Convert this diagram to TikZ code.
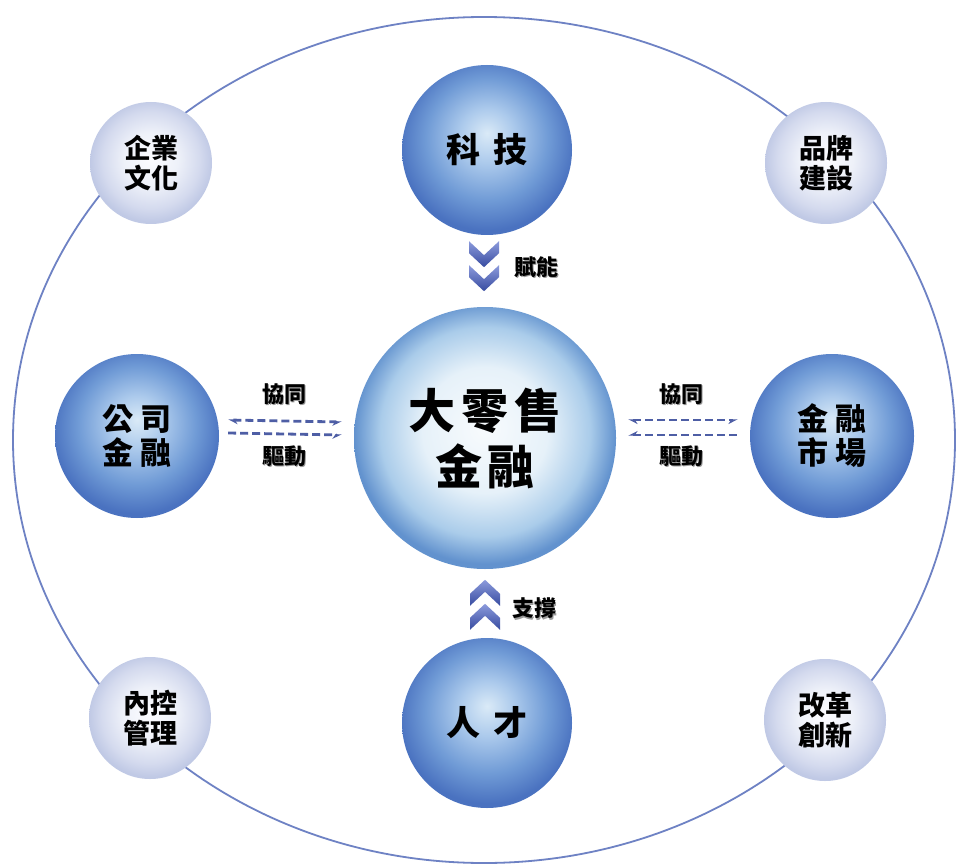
\documentclass[tikz,border=0pt]{standalone}
\usepackage{fontspec}
\newfontfamily\cjk{Noto Sans CJK TC}
\usetikzlibrary{calc,arrows.meta}
\definecolor{ringc}{RGB}{110,130,196}
\definecolor{dashc}{RGB}{78,94,165}
\definecolor{chevtop}{RGB}{140,155,220}
\definecolor{chevbot}{RGB}{55,75,160}
\pgfdeclareradialshading{bluesph}{\pgfpoint{0bp}{5bp}}{%
  color(0bp)=(rgb,255:red,218;green,234;blue,247);
  color(8bp)=(rgb,255:red,172;green,202;blue,236);
  color(18bp)=(rgb,255:red,112;green,155;blue,214);
  color(26bp)=(rgb,255:red,74;green,114;blue,192);
  color(50bp)=(rgb,255:red,74;green,114;blue,192)}
\pgfdeclareradialshading{centersph}{\pgfpoint{0bp}{2bp}}{%
  color(0bp)=(rgb,255:red,248;green,251;blue,253);
  color(12bp)=(rgb,255:red,230;green,241;blue,249);
  color(20bp)=(rgb,255:red,170;green,204;blue,234);
  color(25bp)=(rgb,255:red,98;green,146;blue,206);
  color(50bp)=(rgb,255:red,98;green,146;blue,206)}
\pgfdeclareradialshading{smallsph}{\pgfpoint{0bp}{2bp}}{%
  color(0bp)=(rgb,255:red,252;green,252;blue,255);
  color(11bp)=(rgb,255:red,238;green,241;blue,249);
  color(20bp)=(rgb,255:red,212;green,218;blue,238);
  color(25bp)=(rgb,255:red,192;green,201;blue,229);
  color(50bp)=(rgb,255:red,192;green,201;blue,229)}
\newcommand\shtext[1]{\rlap{\raisebox{-1.3pt}{\hspace{1.3pt}\textcolor{black!40}{#1}}}#1}
\tikzset{
  ring/.style={draw=ringc, line width=1.8pt},
  bluesphere/.style={circle, shade, shading=bluesph, minimum size=170, inner sep=0pt,
    align=center, font=\cjk\bfseries\fontsize{34}{36}\selectfont},
  sidesphere/.style={circle, shade, shading=bluesph, minimum size=164, inner sep=0pt,
    align=center, font=\cjk\bfseries\fontsize{31}{34}\selectfont},
  centersphere/.style={circle, shade, shading=centersph, minimum size=262, inner sep=0pt,
    align=center, font=\cjk\bfseries\fontsize{47}{56}\selectfont},
  smallsphere/.style={circle, shade, shading=smallsph, minimum size=122, inner sep=0pt,
    align=center, font=\cjk\bfseries\fontsize{27}{30}\selectfont},
  lbl/.style={inner sep=0pt, font=\cjk\bfseries\fontsize{22}{24}\selectfont},
  dasharrow/.style={draw=dashc, line width=2.8pt, dash pattern=on 8pt off 4pt},
  chevfill/.style={top color=chevtop, bottom color=chevbot, draw=none},
  chevdn/.pic={\path[chevfill] (-15,0) -- (0,14) -- (15,0) -- (15,12) -- (0,26) -- (-15,12) -- cycle;},
  chevup/.pic={\path[chevfill] (-15,26) -- (0,12) -- (15,26) -- (15,14) -- (0,0) -- (-15,14) -- cycle;}
}
\begin{document}
\begin{tikzpicture}[x=1pt,y=-1pt]
\useasboundingbox[fill=white] (0,0) rectangle (957,866);
\draw[ring] (484,440) ellipse [x radius=471, y radius=423];
% small spheres
\node[smallsphere] (qy) at (151,163) {企業\\文化};
\node[smallsphere] (pp) at (826,163) {品牌\\建設};
\node[smallsphere] (nk) at (150,718) {內控\\管理};
\node[smallsphere] (gg) at (825,720) {改革\\創新};
% blue spheres
\node[bluesphere] (kj) at (487,150) {科\hspace{0.4em}技};
\node[bluesphere] (rc) at (487,723) {人\hspace{0.4em}才};
\node[sidesphere] (gs) at (137,436) {公\hspace{0.2em}司\\金\hspace{0.2em}融};
\node[sidesphere] (jr) at (832,436) {金\hspace{0.2em}融\\市\hspace{0.2em}場};
% centre
\node[centersphere] (c) at (485,438) {大\hspace{0.12em}零\hspace{0.12em}售\\金\hspace{0.12em}融};
% labels
\node[lbl] (fn) at (536,268) {\shtext{賦能}};
\node[lbl] (zc) at (534,609) {\shtext{支撐}};
\node[lbl] (xt1) at (284,395) {\shtext{協同}};
\node[lbl] (qd1) at (284,457) {\shtext{驅動}};
\node[lbl] (xt2) at (681,395) {\shtext{協同}};
\node[lbl] (qd2) at (681,457) {\shtext{驅動}};
% chevrons
\coordinate (dn) at ($(kj.south)+(-3,6)$);
\coordinate (up) at ($(rc.north)+(-2,-58)$);
\pic at (dn) {chevdn};
\pic at ($(dn)+(0,24)$) {chevdn};
\pic at (up) {chevup};
\pic at ($(up)+(0,24)$) {chevup};
% dashed connectors
\draw[dasharrow, {Stealth[harpoon,length=8pt,width=8pt]}-{Stealth[harpoon,swap,length=8pt,width=8pt]}]
  ($(gs.east)+(9,-16)$) -- ($(c.west)+(-12,-16)$);
\draw[dasharrow, -{Stealth[harpoon,swap,length=8pt,width=8pt]}]
  ($(gs.east)+(9,-3)$) -- ($(c.west)+(-12,-3)$);
\draw[dasharrow, {Stealth[harpoon,length=8pt,width=8pt]}-{Stealth[harpoon,swap,length=8pt,width=8pt]}]
  ($(c.east)+(12,-18)$) -- ($(jr.west)+(-12,-16)$);
\draw[dasharrow, {Stealth[harpoon,swap,length=8pt,width=8pt]}-]
  ($(c.east)+(12,-3)$) -- ($(jr.west)+(-10,-1)$);
\end{tikzpicture}
\end{document}
